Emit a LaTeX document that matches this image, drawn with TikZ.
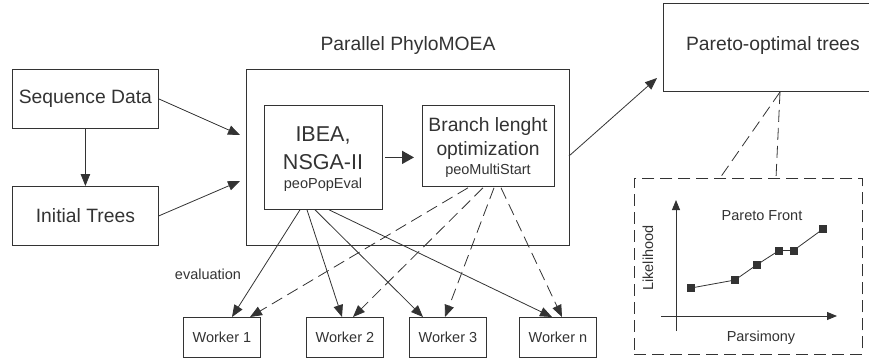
\documentclass[tikz,border=0pt]{standalone}
\usepackage{fontspec}
\setmainfont{Liberation Sans}
\usetikzlibrary{arrows.meta,calc}
\definecolor{ink}{HTML}{333333}
\begin{document}
\begin{tikzpicture}[x=1pt,y=-1pt,
  box/.style={draw=ink,line width=0.8pt,inner sep=0pt,anchor=north west},
  dbox/.style={box,dash pattern=on 12pt off 6pt},
  arr/.style={draw=ink,line width=0.8pt,-{Triangle[length=12pt,width=9.5pt]}},
  thickarr/.style={draw=ink,line width=1.6pt,-{Triangle[length=12pt,width=13pt]}},
  dasharr/.style={arr,dash pattern=on 12pt off 6pt},
  dline/.style={draw=ink,line width=0.8pt,dash pattern=on 12pt off 6pt},
  axarr/.style={draw=ink,line width=0.9pt,-{Triangle[length=10pt,width=8pt]}},
  bigtxt/.style={text=ink,inner sep=0pt,font=\fontsize{19.3}{22}\selectfont},
  hugetxt/.style={text=ink,inner sep=0pt,anchor=base,font=\fontsize{21.5}{24}\selectfont},
  midtxt/.style={text=ink,inner sep=0pt,anchor=base,font=\fontsize{19.3}{22}\selectfont},
  smalltxt/.style={text=ink,inner sep=0pt,font=\fontsize{14.5}{17}\selectfont},
  sqmark/.style={fill=ink,minimum size=8pt,inner sep=0pt},
]
\useasboundingbox (0,0) rectangle (869,359);

% left boxes
\node[box,minimum width=146pt,minimum height=59pt] (seq) at (12,69) {};
\node[bigtxt] (seqt) at (seq.center) {Sequence Data};
\node[box,minimum width=146pt,minimum height=59pt] (init) at (12,186) {};
\node[bigtxt] (initt) at (init.center) {Initial Trees};
\draw[arr] (seq.south) -- (init.north);

% outer box
\node[bigtxt] (title) at (408,46) {Parallel PhyloMOEA};
\node[box,minimum width=323pt,minimum height=176pt] (outer) at (246,69) {};
\coordinate (in1) at (240,135);
\coordinate (in2) at (240,181);
\draw[arr] (seq.east) -- (in1);
\draw[arr] (init.east) -- (in2);

% IBEA box
\node[box,minimum width=118pt,minimum height=104pt] (ibea) at (264,105) {};
\node[hugetxt] (ibea1) at (323,141.7) {IBEA,};
\node[hugetxt] (ibea2) at (323,169) {NSGA-II};
\node[smalltxt,anchor=base] (ibea3) at (323,188.3) {peoPopEval};

% Branch box
\node[box,minimum width=132pt,minimum height=81pt] (br) at (422,105) {};
\node[midtxt] (br1) at (488,131) {Branch lenght};
\node[midtxt] (br2) at (488,155.7) {optimization};
\node[smalltxt,anchor=base] (br3) at (488,174.3) {peoMultiStart};
\coordinate (brin) at ($(br.west |- ibea.east)+(-8,0)$);
\draw[thickarr] ([xshift=2pt]ibea.east) -- (brin);

% Pareto-optimal trees
\node[box,minimum width=206pt,minimum height=88pt] (pot) at (663,3) {};
\node[bigtxt] (pott) at (773,46) {Pareto-optimal trees};
\coordinate (oute) at (569,156);
\coordinate (potin) at (657,78);
\draw[arr] (oute) -- (potin);

% workers
\foreach \n/\x/\t in {w1/183/Worker 1,w2/306/Worker 2,w3/409/Worker 3,wn/519/Worker n}{
  \node[box,minimum width=77pt,minimum height=40pt] (\n) at (\x,317) {};
  \node[smalltxt] (\n t) at (\n.center) {\t};
}
\node[smalltxt] (evl) at (208,274) {evaluation};

% solid arrows from IBEA
\draw[arr] ([xshift=36pt]ibea.south west) -- ([xshift=49pt]w1.north west);
\draw[arr] ([xshift=43pt]ibea.south west) -- ([xshift=36pt]w2.north west);
\draw[arr] ([xshift=51pt]ibea.south west) -- ([xshift=14pt]w3.north west);
\draw[arr] ([xshift=65pt]ibea.south west) -- ([xshift=33pt]wn.north west);

% dashed arrows from Branch
\draw[dasharr] ([xshift=46pt,yshift=-1pt]br.south west) -- ([xshift=67pt]w1.north west);
\draw[dasharr] ([xshift=61pt,yshift=-1pt]br.south west) -- ([xshift=47pt]w2.north west);
\draw[dasharr] ([xshift=72pt,yshift=-1pt]br.south west) -- ([xshift=36pt]w3.north west);
\draw[dasharr] ([xshift=79pt,yshift=-1pt]br.south west) -- ([xshift=43pt]wn.north west);

% dashed zoom box
\node[dbox,minimum width=228pt,minimum height=176pt] (zb) at (634,178) {};
\coordinate (pb) at (780,92);
\draw[dline] (pb) -- ([xshift=86pt]zb.north west);
\draw[dline] (pb) -- ([xshift=142pt]zb.north west);

% plot
\coordinate (yb) at (676,331);
\coordinate (yt) at (676,200);
\coordinate (xl) at (661,316);
\coordinate (xr) at (837,316);
\draw[axarr] (yb) -- (yt);
\draw[axarr] (xl) -- (xr);
\node[smalltxt] (pf) at (762,216) {Pareto Front};
\node[smalltxt] (pars) at (761,338) {Parsimony};
\node[smalltxt,rotate=90] (lik) at (648,258) {Likelihood};
\node[sqmark] (p1) at (691,288) {};
\node[sqmark] (p2) at (735,280) {};
\node[sqmark] (p3) at (756.5,265) {};
\node[sqmark] (p4) at (779,250.5) {};
\node[sqmark] (p5) at (793.5,250.5) {};
\node[sqmark] (p6) at (823,229) {};
\draw[ink,line width=0.8pt] (p1.center) -- (p2.center) -- (p3.center) -- (p4.center) -- (p5.center) -- (p6.center);
\end{tikzpicture}
\end{document}
